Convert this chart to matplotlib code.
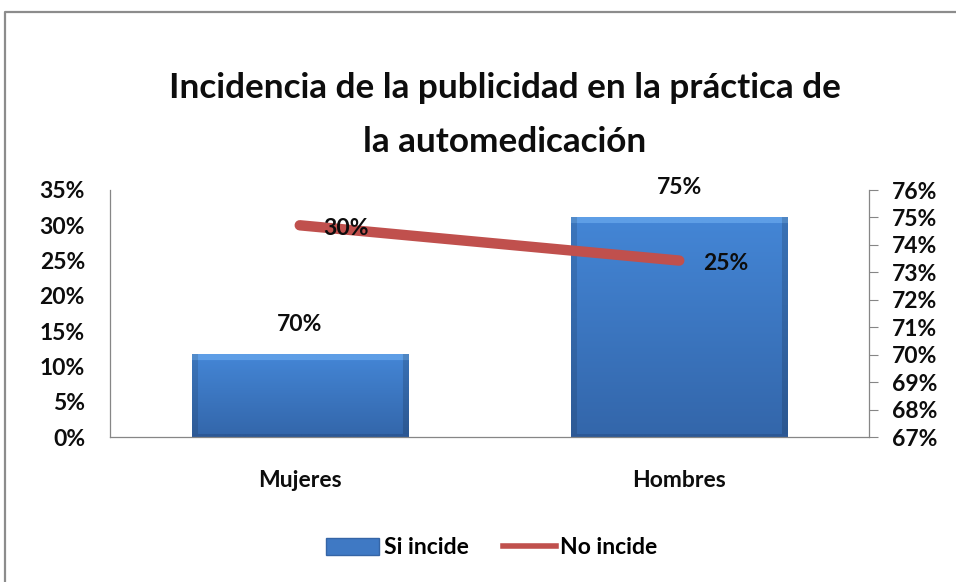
import numpy as np
import matplotlib
matplotlib.use("Agg")
import matplotlib.pyplot as plt
from matplotlib.lines import Line2D
from matplotlib.patches import Patch

categories = ["Mujeres", "Hombres"]
si_incide = [0.70, 0.75]      # bars, right axis
no_incide = [0.30, 0.25]      # line, left axis
left_ticks = [0.00, 0.05, 0.10, 0.15, 0.20, 0.25, 0.30, 0.35]
right_ticks = [0.67, 0.68, 0.69, 0.70, 0.71, 0.72, 0.73, 0.74, 0.75, 0.76]
title = "Incidencia de la publicidad en la práctica de\nla automedicación"

FONT = "Lato"
FS = 16.5
W, H, DPI = 956, 582, 100
fig = plt.figure(figsize=(W / DPI, H / DPI), dpi=DPI)
fig.patch.set_facecolor("white")

ax = fig.add_axes([110 / W, 1 - 437 / H, (869 - 110) / W, (437 - 190) / H])
ax2 = ax.twinx()

x = np.arange(len(categories))
spine_col = "#868686"

# bars on right axis
bars = ax2.bar(x, si_incide, width=0.57, bottom=0, color="#3F79C4",
               edgecolor="#3565A6", linewidth=0.6, zorder=2)
ax2.set_ylim(right_ticks[0], right_ticks[-1])
ax2.set_yticks(right_ticks)
ax2.set_yticklabels([f"{int(round(t*100))}%" for t in right_ticks])
ax.set_xlim(-0.5, len(categories) - 0.5)

# gradient fill for bars
fig.canvas.draw()
for b in bars:
    bx, bw = b.get_x(), b.get_width()
    top = b.get_height() + b.get_y()
    y0 = right_ticks[0]
    p0 = ax2.transData.transform((bx, y0))
    p1 = ax2.transData.transform((bx + bw, top))
    wpx, hpx = int(abs(p1[0] - p0[0])), int(abs(p1[1] - p0[1]))
    img = np.zeros((hpx, wpx, 3))
    t = np.linspace(0, 1, hpx)[:, None]
    c_top = np.array([0x44, 0x86, 0xD6]) / 255
    c_bot = np.array([0x33, 0x66, 0xAA]) / 255
    img[:] = (c_top * (1 - t) + c_bot * t)[:, None, :]
    bev = 6
    img[:bev, :] = np.array([0x5E, 0x9E, 0xE6]) / 255
    img[:, :bev] = img[:, :bev] * 0.88
    img[:, -bev:] = img[:, -bev:] * 0.85
    img[-3:, :] = np.array([0x2C, 0x58, 0x96]) / 255
    ax2.imshow(img, extent=(bx, bx + bw, y0, top), aspect="auto",
               zorder=2.5, interpolation="bilinear")
ax2.set_xlim(-0.5, len(categories) - 0.5)
ax2.set_ylim(right_ticks[0], right_ticks[-1])

# line on left axis
ax.plot(x, no_incide, color="#C0504D", lw=7.5, solid_capstyle="round", zorder=3)
ax.set_ylim(left_ticks[0], left_ticks[-1])
ax.set_yticks(left_ticks)
ax.set_yticklabels([f"{int(round(t*100))}%" for t in left_ticks])
ax.set_zorder(ax2.get_zorder() + 1)
ax.patch.set_visible(False)

ax.set_xticks(x)
ax.set_xticklabels(categories)
ax2.tick_params(axis="x", bottom=False, labelbottom=False)

tick_font = dict(family=FONT, weight="bold", size=FS)
for lab in ax.get_yticklabels() + ax2.get_yticklabels() + ax.get_xticklabels():
    lab.set_fontfamily(FONT); lab.set_fontweight("bold"); lab.set_fontsize(FS)
    lab.set_color("#0d0d0d")

ax.tick_params(axis="y", length=0, pad=18)
ax.tick_params(axis="x", length=0, pad=24)
ax2.tick_params(axis="y", length=6.5, width=0.8, color=spine_col, pad=10)

for a in (ax, ax2):
    for s in a.spines.values():
        s.set_color(spine_col); s.set_linewidth(0.9)
    a.spines["top"].set_visible(False)
ax2.spines["left"].set_visible(False)
ax2.spines["bottom"].set_visible(False)
ax.spines["right"].set_visible(False)

# data labels
for xi, v in zip(x, si_incide):
    ax2.annotate(f"{int(round(v*100))}%", (xi, v), xytext=(0, 14), textcoords="offset points",
                 ha="center", va="bottom", **tick_font, color="#0d0d0d", zorder=5)
for xi, v in zip(x, no_incide):
    ax.annotate(f"{int(round(v*100))}%", (xi, v), xytext=(17, -2), textcoords="offset points",
                ha="left", va="center", **tick_font, color="#0d0d0d", zorder=5)

fig.text(505 / W, 1 - 115 / H, title, ha="center", va="center", family=FONT,
         weight="bold", size=25.3, linespacing=1.86, color="#0d0d0d")

handles = [Patch(facecolor="#3F79C4", edgecolor="#3565A6"),
           Line2D([0], [0], color="#C0504D", lw=4)]
leg = fig.legend(handles, ["Si incide", "No incide"], loc="center",
                 bbox_to_anchor=(492 / W, 1 - 548 / H), ncol=2, frameon=False,
                 prop=dict(family=FONT, weight="bold", size=FS),
                 handlelength=2.3, handleheight=0.8, handletextpad=0.2, columnspacing=1.5)

# outer frame
fig.add_artist(Line2D([5 / W, 5 / W, 1], [0, 1 - 12 / H, 1 - 12 / H],
                      transform=fig.transFigure, color="#8C8C8C", lw=1.6))

fig.savefig("out.png", dpi=DPI)
